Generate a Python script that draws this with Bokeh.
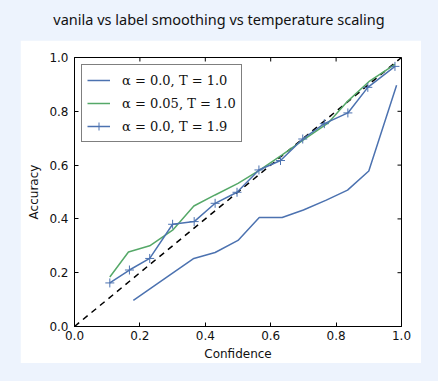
import re
from bokeh.plotting import figure
from bokeh.layouts import column
from bokeh.models import (Range1d, FixedTicker, PrintfTickFormatter,
                          Legend, LegendItem, Div)
from bokeh.embed import file_html
from bokeh.resources import INLINE

# ---- data ----
diag = [0.0, 1.0]

vanilla_conf = [0.18, 0.29, 0.365, 0.43, 0.50, 0.565, 0.635, 0.70, 0.77, 0.835, 0.90, 0.985]
vanilla_acc = [0.097, 0.19, 0.253, 0.275, 0.32, 0.405, 0.405, 0.433, 0.47, 0.507, 0.578, 0.897]

ls_conf = [0.108, 0.165, 0.23, 0.30, 0.365, 0.43, 0.50, 0.565, 0.635, 0.70, 0.775, 0.835, 0.90, 0.98]
ls_acc = [0.184, 0.277, 0.30, 0.358, 0.448, 0.489, 0.532, 0.58, 0.638, 0.694, 0.756, 0.837, 0.91, 0.974]

ts_conf = [0.108, 0.168, 0.23, 0.30, 0.366, 0.43, 0.497, 0.564, 0.63, 0.698, 0.764, 0.836, 0.897, 0.98]
ts_acc = [0.162, 0.21, 0.253, 0.38, 0.39, 0.458, 0.499, 0.582, 0.617, 0.697, 0.754, 0.794, 0.889, 0.967]

ticks = [0.0, 0.2, 0.4, 0.6, 0.8, 1.0]
labels = ["α = 0.0, T = 1.0", "α = 0.05, T = 1.0", "α = 0.0, T = 1.9"]
title_text = "vanila vs label smoothing vs temperature scaling"

BG = "#edf3fd"
BLUE = "#4c72b0"
GREEN = "#55a868"

FRAME_W, FRAME_H = 327, 269
TICK_PX = 4

title_div = Div(text=title_text, width=438, height=40, margin=(0, 0, 0, 0),
                styles={"text-align": "center", "font-family": "'Noto Sans'",
                        "font-size": "14.5px", "color": "#111111",
                        "line-height": "38px", "width": "438px"})

p = figure(frame_width=FRAME_W, frame_height=FRAME_H,
           output_backend="svg", toolbar_location=None,
           x_range=Range1d(0, 1), y_range=Range1d(0, 1),
           min_border_left=54, min_border_right=20, min_border_top=17, min_border_bottom=36,
           border_fill_color="white", background_fill_color="white",
           x_axis_label="Confidence", y_axis_label="Accuracy")
p.margin = (0, 0, 0, 20)
p.outline_line_color = "black"
p.outline_line_width = 1
p.grid.visible = False

for ax in (p.xaxis[0], p.yaxis[0]):
    ax.ticker = FixedTicker(ticks=ticks)
    ax.formatter = PrintfTickFormatter(format="%.1f")
    ax.major_tick_in = TICK_PX
    ax.major_tick_out = 0
    ax.minor_tick_line_color = None
    ax.axis_line_color = "black"
    ax.major_tick_line_color = "black"
    ax.major_label_text_font = "DejaVu Sans"
    ax.major_label_text_font_size = "12px"
    ax.major_label_text_color = "#111111"
    ax.axis_label_text_font = "DejaVu Sans"
    ax.axis_label_text_font_size = "12px"
    ax.axis_label_text_font_style = "normal"
    ax.axis_label_text_color = "#111111"
p.xaxis[0].major_label_standoff = 4
p.xaxis[0].axis_label_standoff = 4
p.yaxis[0].major_label_standoff = 6
p.yaxis[0].axis_label_standoff = 5

# inward tick marks on the top and right spines (matplotlib style)
dy = TICK_PX / FRAME_H
dx = TICK_PX / FRAME_W
p.segment(x0=ticks, y0=[1.0] * len(ticks), x1=ticks, y1=[1.0 - dy] * len(ticks),
          line_color="black", line_width=1)
p.segment(x0=[1.0] * len(ticks), y0=ticks, x1=[1.0 - dx] * len(ticks), y1=ticks,
          line_color="black", line_width=1)

r_diag = p.line(diag, diag, line_color="black", line_dash="6 5", line_width=1.5)
r_van = p.line(vanilla_conf, vanilla_acc, line_color=BLUE, line_width=1.5)
r_ls = p.line(ls_conf, ls_acc, line_color=GREEN, line_width=1.5)
r_ts = p.line(ts_conf, ts_acc, line_color=BLUE, line_width=1.5)
r_tsm = p.scatter(ts_conf, ts_acc, marker="cross", size=9, line_color=BLUE, line_width=1)

legend = Legend(items=[LegendItem(label=labels[0], renderers=[r_van]),
                       LegendItem(label=labels[1], renderers=[r_ls]),
                       LegendItem(label=labels[2], renderers=[r_ts, r_tsm])],
                location="top_left")
legend.margin = 7
legend.padding = 5
legend.spacing = 3
legend.border_line_color = "black"
legend.border_line_width = 1
legend.background_fill_color = "white"
legend.background_fill_alpha = 1
legend.label_text_font = "DejaVu Serif"
legend.label_text_font_size = "13px"
legend.label_text_color = "#111111"
legend.glyph_width = 23
legend.glyph_height = 20
legend.label_standoff = 12
legend.label_height = 20
p.add_layout(legend)

layout = column(title_div, p, spacing=0)

html = file_html(layout, INLINE)
html = html.replace("</head>", "<style>html,body{background:%s;}</style></head>" % BG, 1)
html = re.sub(r"<body([^>]*)>", r'<body\1 style="background:%s">' % BG, html, count=1)
open("out.html", "w").write(html)
